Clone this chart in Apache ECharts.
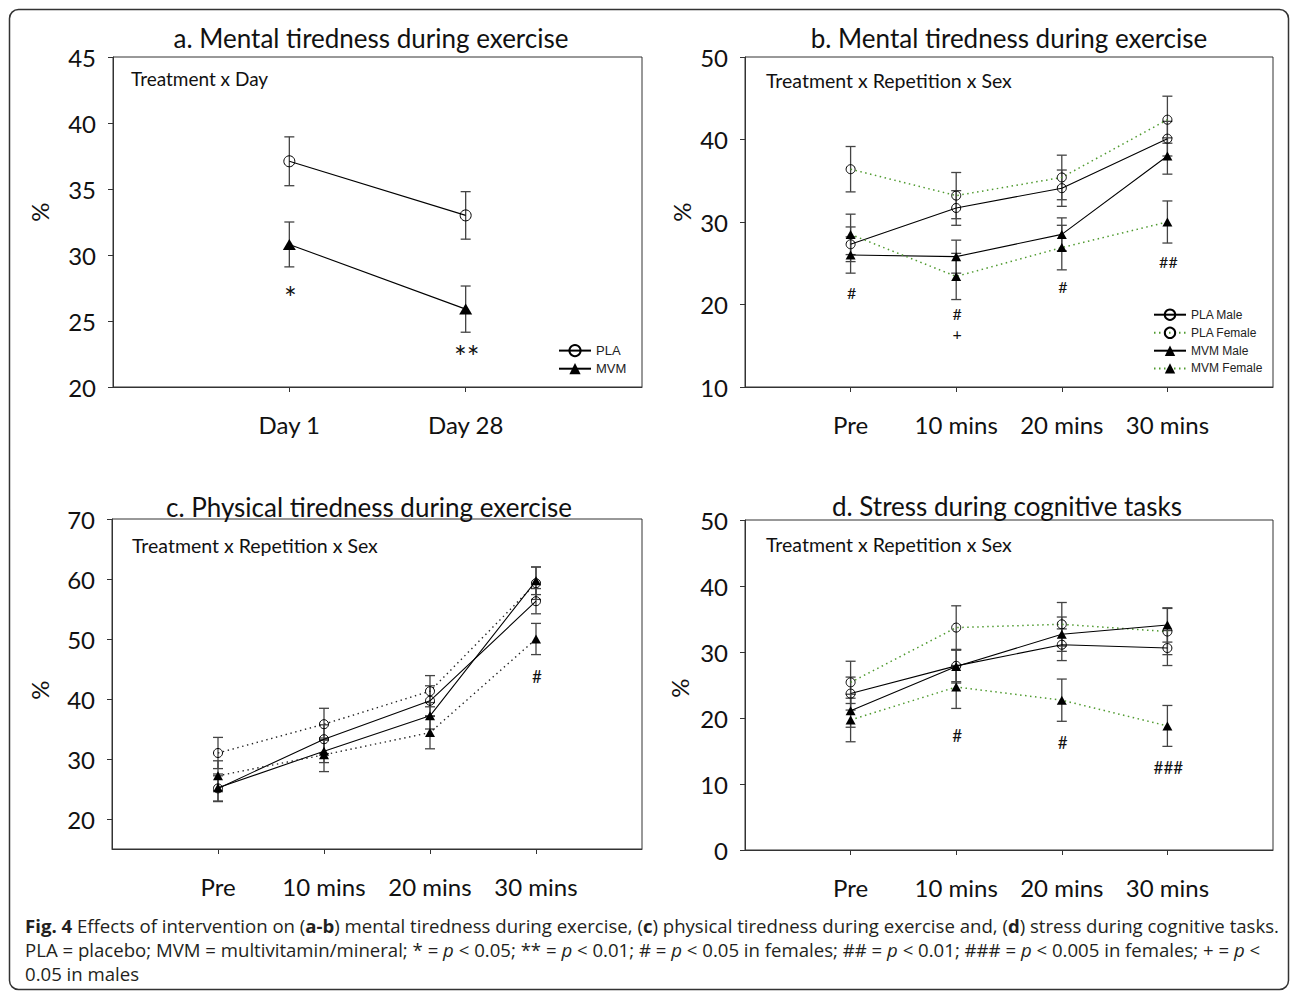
<!DOCTYPE html>
<html><head><meta charset="utf-8">
<script src="https://cdn.jsdelivr.net/npm/echarts@6/dist/echarts.min.js"></script>
<style>html,body{margin:0;padding:0;background:#fff}#c{width:1290px;height:991px}</style>
</head><body><div id="c"></div>
<script>
// ---------- categories ----------
const daysA = ['Day 1', 'Day 28'];
const timeCats = ['Pre', '10 mins', '20 mins', '30 mins'];

// ---------- panel a ----------
const aPLA = [37.1, 33.0];
const aPLAErr = [1.85, 1.8];
const aMVM = [30.8, 25.9];
const aMVMErr = [1.7, 1.75];
const aNoteCats = ['Day 1', 'Day 28'];
const aNoteY = [26.8, 22.35];
const aNoteText = ['*', '**'];
const aYTicks = [20, 25, 30, 35, 40, 45];

// ---------- panel b ----------
const bPLAMale = [27.3, 31.7, 34.1, 40.1];
const bPLAMaleErr = [2.1, 2.1, 2.2, 2.1];
const bPLAFemale = [36.4, 33.2, 35.4, 42.4];
const bPLAFemaleErr = [2.75, 2.8, 2.7, 2.85];
const bMVMMale = [26.0, 25.8, 28.5, 38.0];
const bMVMMaleErr = [2.2, 2.0, 2.0, 2.2];
const bMVMFemale = [28.5, 23.4, 26.9, 30.0];
const bMVMFemaleErr = [2.45, 2.8, 2.7, 2.55];
const bNoteCats = ['Pre', '10 mins', '10 mins', '20 mins', '30 mins'];
const bNoteY = [21.4, 18.9, 16.5, 22.2, 25.2];
const bNoteText = ['#', '#', '+', '#', '##'];
const bYTicks = [10, 20, 30, 40, 50];

// ---------- panel c ----------
const cPLAMale = [25.1, 33.3, 39.7, 56.3];
const cPLAMaleErr = [2.1, 2.4, 2.5, 2.1];
const cPLAFemale = [31.0, 35.8, 41.3, 59.3];
const cPLAFemaleErr = [2.6, 2.65, 2.6, 2.7];
const cMVMMale = [25.2, 31.3, 37.2, 59.7];
const cMVMMaleErr = [2.3, 1.9, 2.2, 2.3];
const cMVMFemale = [27.2, 30.7, 34.4, 50.0];
const cMVMFemaleErr = [2.5, 2.8, 2.7, 2.6];
const cNoteCats = ['30 mins'];
const cNoteY = [43.8];
const cNoteText = ['#'];
const cYTicks = [20, 30, 40, 50, 60, 70];
const cYRange = [15, 70];

// ---------- panel d ----------
const dPLAMale = [23.7, 27.9, 31.1, 30.6];
const dPLAMaleErr = [2.5, 2.4, 2.4, 2.65];
const dPLAFemale = [25.4, 33.7, 34.2, 33.1];
const dPLAFemaleErr = [3.2, 3.3, 3.3, 3.5];
const dMVMMale = [21.1, 27.8, 32.7, 34.1];
const dMVMMaleErr = [2.5, 2.5, 2.6, 2.6];
const dMVMFemale = [19.7, 24.7, 22.7, 18.8];
const dMVMFemaleErr = [3.3, 3.25, 3.2, 3.1];
const dNoteCats = ['10 mins', '20 mins', '30 mins'];
const dNoteY = [17.3, 16.3, 12.5];
const dNoteText = ['#', '#', '###'];
const dYTicks = [0, 10, 20, 30, 40, 50];

// ---------- builders ----------
const FONT = 'Lato';
const LEGF = 'Liberation Sans';
const AX = '#333';
const GREEN = '#4f9a2f';
const axisCatsA = [' ', ...daysA, '  '];
const axisCatsT = [' ', ...timeCats, '  '];

function idxOf(axisCats, c) { return axisCats.indexOf(c); }

function lineS(name, g, axisCats, cats, vals, opt) {
  return {
    type: 'line', name, xAxisIndex: g, yAxisIndex: g, z: 3,
    data: cats.map((c, i) => [idxOf(axisCats, c), vals[i]]),
    symbol: opt.symbol, symbolSize: opt.size,
    lineStyle: { color: opt.lineColor, width: opt.lineWidth, type: opt.lineType },
    itemStyle: opt.symbol === 'circle'
      ? { color: 'rgba(255,255,255,0)', borderColor: '#000', borderWidth: 1 }
      : { color: '#000', borderWidth: 0 },
    emphasis: { disabled: true }, animation: false
  };
}
function errS(g, axisCats, cats, vals, errs, cap) {
  return {
    type: 'custom', xAxisIndex: g, yAxisIndex: g, z: 2, silent: true,
    data: cats.map((c, i) => [idxOf(axisCats, c), vals[i] - errs[i], vals[i] + errs[i]]),
    encode: { x: 0, y: [1, 2] },
    renderItem: function (params, api) {
      const x = api.value(0);
      const lo = api.coord([x, api.value(1)]);
      const hi = api.coord([x, api.value(2)]);
      const st = { stroke: '#444', lineWidth: 1.3 };
      return {
        type: 'group', children: [
          { type: 'line', shape: { x1: lo[0], y1: lo[1], x2: hi[0], y2: hi[1] }, style: st },
          { type: 'line', shape: { x1: lo[0] - cap, y1: lo[1], x2: lo[0] + cap, y2: lo[1] }, style: st },
          { type: 'line', shape: { x1: hi[0] - cap, y1: hi[1], x2: hi[0] + cap, y2: hi[1] }, style: st }
        ]
      };
    },
    animation: false
  };
}
function noteS(g, axisCats, cats, ys, texts, fontSize) {
  return {
    type: 'custom', xAxisIndex: g, yAxisIndex: g, z: 4, silent: true,
    data: cats.map((c, i) => [idxOf(axisCats, c), ys[i]]),
    renderItem: function (params, api) {
      const p = api.coord([api.value(0), api.value(1)]);
      return {
        type: 'text', x: p[0] + 1, y: p[1],
        style: { legacy: false, text: texts[params.dataIndex], fontSize: fontSize, fontFamily: FONT,
          fill: '#111', align: 'center', verticalAlign: 'middle', textAlign: 'center', textVerticalAlign: 'middle' }
      };
    },
    animation: false
  };
}

const solidCircle = { symbol: 'circle', size: 9, lineColor: '#000', lineWidth: 1.1, lineType: 'solid' };
const solidTri = { symbol: 'triangle', size: [10, 9], lineColor: '#000', lineWidth: 1.1, lineType: 'solid' };
const greenCircle = { symbol: 'circle', size: 9, lineColor: GREEN, lineWidth: 1.5, lineType: [1.5, 3.5] };
const greenTri = { symbol: 'triangle', size: [10, 9], lineColor: GREEN, lineWidth: 1.5, lineType: [1.5, 3.5] };
const blackDotCircle = { symbol: 'circle', size: 9, lineColor: '#222', lineWidth: 1.4, lineType: [1.4, 3.6] };
const blackDotTri = { symbol: 'triangle', size: [10, 9], lineColor: '#222', lineWidth: 1.4, lineType: [1.4, 3.6] };

const grids = [
  { left: 113, top: 57, width: 529, height: 330 },
  { left: 745, top: 57, width: 528, height: 330 },
  { left: 112, top: 519, width: 530, height: 330 },
  { left: 745, top: 520, width: 528, height: 330 }
].map(g => Object.assign(g, { show: true, borderColor: AX, borderWidth: 1, backgroundColor: 'transparent' }));

function xAx(g, cats) {
  return {
    type: 'category', gridIndex: g, data: cats, boundaryGap: false,
    axisLine: { lineStyle: { color: AX, width: 1 } },
    axisTick: { interval: (i) => i > 0 && i < cats.length - 1, length: 5, lineStyle: { color: AX } },
    axisLabel: { interval: 0, margin: 25, fontSize: 24, fontFamily: FONT, color: '#111' },
    splitLine: { show: false }
  };
}
function yAx(g, ticks, range) {
  const o = {
    type: 'value', gridIndex: g,
    min: range ? range[0] : ticks[0], max: range ? range[1] : ticks[ticks.length - 1],
    axisLine: { show: true, lineStyle: { color: AX, width: 1 } },
    axisTick: { show: true, length: 5, lineStyle: { color: AX } },
    axisLabel: { margin: 17, fontSize: 24, fontFamily: FONT, color: '#111' },
    splitLine: { show: false }
  };
  if (range) {
    o.axisLabel.customValues = ticks;
    o.axisTick.customValues = ticks;
  } else {
    o.interval = ticks[1] - ticks[0];
  }
  return o;
}

const series = [
  // a
  errS(0, axisCatsA, daysA, aPLA, aPLAErr, 5),
  errS(0, axisCatsA, daysA, aMVM, aMVMErr, 5),
  lineS('PLA', 0, axisCatsA, daysA, aPLA, { symbol: 'circle', size: 11, lineColor: '#000', lineWidth: 1.1, lineType: 'solid' }),
  lineS('MVM', 0, axisCatsA, daysA, aMVM, { symbol: 'triangle', size: [13, 11], lineColor: '#000', lineWidth: 1.1, lineType: 'solid' }),
  noteS(0, axisCatsA, aNoteCats, aNoteY, aNoteText, 30),
  // b
  errS(1, axisCatsT, timeCats, bPLAMale, bPLAMaleErr, 5),
  errS(1, axisCatsT, timeCats, bPLAFemale, bPLAFemaleErr, 5),
  errS(1, axisCatsT, timeCats, bMVMMale, bMVMMaleErr, 5),
  errS(1, axisCatsT, timeCats, bMVMFemale, bMVMFemaleErr, 5),
  lineS('PLA Male', 1, axisCatsT, timeCats, bPLAMale, solidCircle),
  lineS('PLA Female', 1, axisCatsT, timeCats, bPLAFemale, greenCircle),
  lineS('MVM Male', 1, axisCatsT, timeCats, bMVMMale, solidTri),
  lineS('MVM Female', 1, axisCatsT, timeCats, bMVMFemale, greenTri),
  noteS(1, axisCatsT, bNoteCats, bNoteY, bNoteText, 16),
  // c
  errS(2, axisCatsT, timeCats, cPLAMale, cPLAMaleErr, 5),
  errS(2, axisCatsT, timeCats, cPLAFemale, cPLAFemaleErr, 5),
  errS(2, axisCatsT, timeCats, cMVMMale, cMVMMaleErr, 5),
  errS(2, axisCatsT, timeCats, cMVMFemale, cMVMFemaleErr, 5),
  lineS('c: PLA Male', 2, axisCatsT, timeCats, cPLAMale, solidCircle),
  lineS('c: PLA Female', 2, axisCatsT, timeCats, cPLAFemale, blackDotCircle),
  lineS('c: MVM Male', 2, axisCatsT, timeCats, cMVMMale, solidTri),
  lineS('c: MVM Female', 2, axisCatsT, timeCats, cMVMFemale, blackDotTri),
  noteS(2, axisCatsT, cNoteCats, cNoteY, cNoteText, 17),
  // d
  errS(3, axisCatsT, timeCats, dPLAMale, dPLAMaleErr, 5),
  errS(3, axisCatsT, timeCats, dPLAFemale, dPLAFemaleErr, 5),
  errS(3, axisCatsT, timeCats, dMVMMale, dMVMMaleErr, 5),
  errS(3, axisCatsT, timeCats, dMVMFemale, dMVMFemaleErr, 5),
  lineS('d: PLA Male', 3, axisCatsT, timeCats, dPLAMale, solidCircle),
  lineS('d: PLA Female', 3, axisCatsT, timeCats, dPLAFemale, greenCircle),
  lineS('d: MVM Male', 3, axisCatsT, timeCats, dMVMMale, solidTri),
  lineS('d: MVM Female', 3, axisCatsT, timeCats, dMVMFemale, greenTri),
  noteS(3, axisCatsT, dNoteCats, dNoteY, dNoteText, 17)
];

function txt(text, x, y, size, opts) {
  opts = opts || {};
  return {
    type: 'text', x: x, y: y, rotation: opts.rotation || 0, z: 10, silent: true,
    style: Object.assign({
      legacy: false, text: text, fontSize: size, fontFamily: opts.family || FONT, fill: opts.fill || '#111',
      fontWeight: opts.weight || 'normal',
      align: opts.align || 'center', verticalAlign: 'middle',
      textAlign: opts.align || 'center', textVerticalAlign: 'middle'
    }, opts.rich ? { rich: opts.rich } : {})
  };
}

const CAPF = 'Open Sans';
const CAPS = 18.6;
const capRich = {
  b: { fontFamily: CAPF, fontSize: CAPS, fontWeight: 'bold', fill: '#231f20' },
  i: { fontFamily: CAPF, fontSize: CAPS, fontStyle: 'italic', fill: '#231f20' }
};

const graphic = [
  { type: 'rect', silent: true, z: 0, shape: { x: 9.5, y: 9.5, width: 1279, height: 980, r: 9 },
    style: { fill: 'none', stroke: '#333', lineWidth: 1.5 } },
  txt('a. Mental tiredness during exercise', 371, 38, 26),
  txt('b. Mental tiredness during exercise', 1009, 38, 26),
  txt('c. Physical tiredness during exercise', 369, 507, 26),
  txt('d. Stress during cognitive tasks', 1007, 506, 26),
  txt('Treatment x Day', 131, 78, 19, { align: 'left' }),
  txt('Treatment x Repetition x Sex', 766, 80, 19.5, { align: 'left' }),
  txt('Treatment x Repetition x Sex', 132, 545, 19.5, { align: 'left' }),
  txt('Treatment x Repetition x Sex', 766, 544, 19.5, { align: 'left' }),
  txt('%', 39, 212, 24, { rotation: Math.PI / 2 }),
  txt('%', 681, 212, 24, { rotation: Math.PI / 2 }),
  txt('%', 39, 690, 24, { rotation: Math.PI / 2 }),
  txt('%', 679, 688, 24, { rotation: Math.PI / 2 }),
  txt('{b|Fig. 4} Effects of intervention on ({b|a-b}) mental tiredness during exercise, ({b|c}) physical tiredness during exercise and, ({b|d}) stress during cognitive tasks.',
    25, 925, CAPS, { align: 'left', family: CAPF, fill: '#231f20', rich: capRich }),
  txt('PLA = placebo; MVM = multivitamin/mineral; * = {i|p} < 0.05; ** = {i|p} < 0.01; # = {i|p} < 0.05 in females; ## = {i|p} < 0.01; ### = {i|p} < 0.005 in females; + = {i|p} <',
    25, 949, CAPS, { align: 'left', family: CAPF, fill: '#231f20', rich: capRich }),
  txt('0.05 in males', 25, 973, CAPS, { align: 'left', family: CAPF, fill: '#231f20' })
];

const option = {
  backgroundColor: '#fff',
  animation: false,
  grid: grids,
  xAxis: [xAx(0, axisCatsA), xAx(1, axisCatsT), xAx(2, axisCatsT), xAx(3, axisCatsT)],
  yAxis: [yAx(0, aYTicks), yAx(1, bYTicks), yAx(2, cYTicks, cYRange), yAx(3, dYTicks)],
  legend: [
    { data: ['PLA', 'MVM'], left: 558, top: 344, padding: 0, orient: 'vertical', itemWidth: 32, itemHeight: 14, itemGap: 5,
      selectedMode: false, textStyle: { fontFamily: LEGF, fontSize: 13, color: '#222' } },
    { data: ['PLA Male', 'PLA Female', 'MVM Male', 'MVM Female'], left: 1153, top: 308.5, padding: 0, orient: 'vertical',
      itemWidth: 32, itemHeight: 13, itemGap: 5.7, selectedMode: false,
      textStyle: { fontFamily: LEGF, fontSize: 12, color: '#222' } }
  ],
  series: series,
  graphic: graphic
};

const chart = echarts.init(document.getElementById('c'), null, { renderer: 'svg', width: 1290, height: 991 });
chart.setOption(option);
</script>
</body></html>
